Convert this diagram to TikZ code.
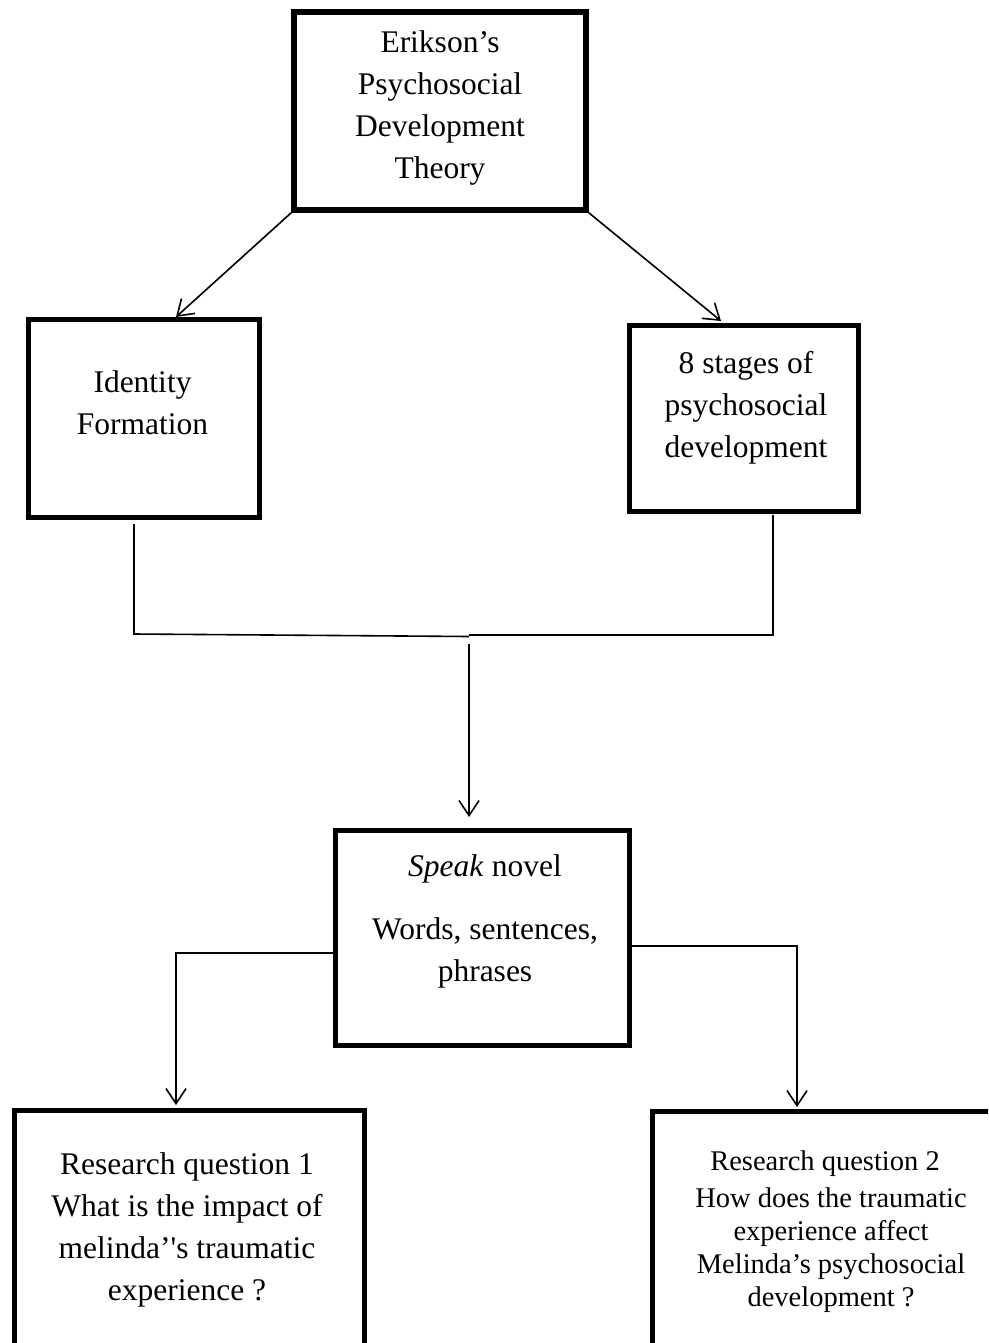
\documentclass[tikz,border=0pt]{standalone}
\usepackage{fontspec}
\setmainfont{Liberation Serif}
\usetikzlibrary{arrows.meta}
\begin{document}
\begin{tikzpicture}[x=1pt,y=-1pt,
  box/.style={draw, line width=5.2pt, inner sep=0pt},
  txt/.style={align=center, font=\fontsize{31.5}{42}\selectfont, inner sep=0pt},
  smalltxt/.style={align=center, font=\fontsize{28.5}{33}\selectfont, inner sep=0pt},
  conn/.style={line width=1.6pt},
  arr/.style={conn, -{Straight Barb[length=15pt,width=20pt]}}]
\useasboundingbox (0,0) rectangle (988,1343);
\clip (0,0) rectangle (988,1343);
\fill[white] (0,0) rectangle (988,1343);

% boxes
\node[box, minimum width=292pt, minimum height=198pt] (theory) at (440,111) {};
\node[txt] (theorytxt) at (440,107.6) {Erikson’s\\Psychosocial\\Development\\Theory};

\node[box, minimum width=231pt, minimum height=198pt] (identity) at (144,418.5) {};
\node[txt] (identitytxt) at (142.5,402.75) {Identity\\Formation};

\node[box, minimum width=229.5pt, minimum height=186.5pt] (stages) at (744,418.5) {};
\node[txt] (stagestxt) at (746,407.7) {8 stages of\\psychosocial\\development};

\node[box, minimum width=294.5pt, minimum height=215.5pt] (speak) at (482.5,938) {};
\node[txt] (speaktxt) at (485,921) {\textit{Speak} novel\\[21pt]Words, sentences,\\phrases};

\node[box, minimum width=350.5pt, minimum height=300pt] (rq1) at (189.5,1260.25) {};
\node[txt] (rq1txt) at (187,1230) {Research question 1\\What is the impact of\\melinda’\textquotesingle s traumatic\\experience ?};

\node[box, minimum width=370pt, minimum height=300pt] (rq2) at (837.25,1261.25) {};
\node[smalltxt] (rq2txt) at (831,1231.3) {Research question 2\hspace*{12pt}\\[4pt]How does the traumatic\\experience affect\\Melinda’s psychosocial\\development ?};

% connectors
\coordinate (a1) at (176,317);
\coordinate (a2) at (721,321);
\draw[arr] (theory.south west) -- (a1);
\draw[arr] (theory.south east) -- (a2);

\coordinate (l1) at (134,524);
\coordinate (l2) at (134,634);
\coordinate (m1) at (469,636.5);
\coordinate (r1) at (773,515);
\coordinate (r2) at (773,635);
\coordinate (m2) at (469,635);
\draw[conn] (l1) -- (l2) -- (m1);
\draw[conn] (r1) -- (r2) -- (m2);

\coordinate (m3) at (469,644);
\coordinate (m4) at (469,817);
\draw[arr] (m3) -- (m4);

\coordinate (bl) at (333,953);
\coordinate (rq1tip) at (176,1105);
\draw[arr] (bl) -| (rq1tip);
\coordinate (br) at (632,946);
\coordinate (rq2tip) at (797,1107);
\draw[arr] (br) -| (rq2tip);
\end{tikzpicture}
\end{document}
